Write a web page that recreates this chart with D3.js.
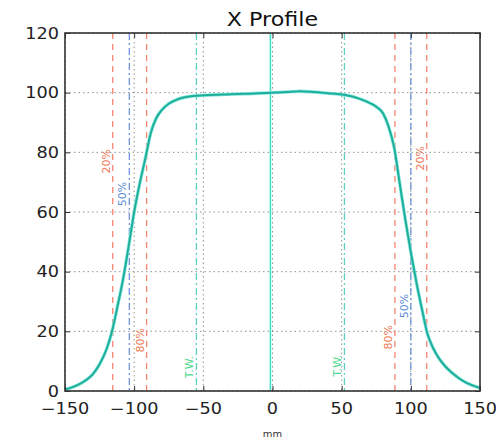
<!DOCTYPE html>
<html>
<head>
<meta charset="utf-8">
<script src="https://cdn.jsdelivr.net/npm/d3@7"></script>
<style>
  body { margin: 0; background: #fff; }
  text { font-family: "DejaVu Sans", sans-serif; }
</style>
</head>
<body>
<div class="chart"></div>
<script>
// profile samples (mm, %)
let profileX = [-150, -145, -140, -135, -130, -125, -120, -116, -112, -108, -104, -100, -96, -92, -88, -84, -80, -75, -70, -65, -60, -55, -50, -40, -30, -20, -10, 0, 10, 20, 30, 40, 50, 55, 60, 65, 70, 75, 80, 84, 88, 92, 96, 100, 104, 108, 112, 116, 120, 125, 130, 135, 140, 145, 150];
let profileY = [0.5, 1.2, 2.2, 3.6, 5.6, 9, 14, 20, 28.5, 37.5, 48.5, 60, 69.5, 77.8, 86.5, 91.5, 94.2, 96.3, 97.5, 98.3, 98.7, 99, 99.1, 99.3, 99.5, 99.6, 99.8, 100, 100.2, 100.5, 100.2, 99.8, 99.4, 99, 98.4, 97.6, 96.6, 95.3, 93, 88.5, 81.5, 69.5, 57.5, 46.5, 36.5, 27.5, 19.2, 14.5, 11.2, 8.2, 6, 4.2, 2.8, 1.8, 1.0];

// marker lines: position, label, label height
let markerX = [-115.5, -103.5, -91, -55, 52, 88.5, 100, 111.5];
let markerLabel = ['20%', '50%', '80%', 'T.W.', 'T.W.', '80%', '50%', '20%'];
let markerLabelY = [77, 66, 17, 8, 8.5, 18, 28.5, 78];
let markerKind = ['20', '50', '80', 'tw', 'tw', '80', '50', '20'];
let centerX = -1.5;

let xTicks = [-150, -100, -50, 0, 50, 100, 150];
let yTicks = [0, 20, 40, 60, 80, 100, 120];

let margin = { top: 33, right: 16, bottom: 52, left: 65 };
let width = 496 - margin.left - margin.right;
let height = 443 - margin.top - margin.bottom;

let lineColor = { '20': '#f48670', '80': '#f48670', '50': '#6f95dc', 'tw': '#5fd0bf' };
let lineDash = { '20': '6,5', '80': '6,5', '50': '7,3,2,3', 'tw': '7,3,2,3' };
let textColor = { '20': '#f07a55', '80': '#f07a55', '50': '#5b8bd8', 'tw': '#4fd890' };

let svg = d3.select('.chart')
    .append('svg')
    .attr('width', 496)
    .attr('height', 443);

let g = svg.append('g')
    .attr('transform', 'translate(' + margin.left + ', ' + margin.top + ')');

let xScale = d3.scaleLinear().domain([-150, 150]).range([0, width]);
let yScale = d3.scaleLinear().domain([0, 120]).range([height, 0]);

// grid
g.selectAll('.gx')
    .data(xTicks)
    .enter()
    .append('line')
    .attr('x1', d => xScale(d)).attr('x2', d => xScale(d))
    .attr('y1', 0).attr('y2', height)
    .style('stroke', '#666').style('stroke-width', 0.7)
    .style('stroke-dasharray', '1.5,3');
g.selectAll('.gy')
    .data(yTicks)
    .enter()
    .append('line')
    .attr('y1', d => yScale(d)).attr('y2', d => yScale(d))
    .attr('x1', 0).attr('x2', width)
    .style('stroke', '#666').style('stroke-width', 0.7)
    .style('stroke-dasharray', '1.5,3');

// marker lines
g.selectAll('.marker')
    .data(markerX)
    .enter()
    .append('line')
    .attr('x1', d => xScale(d)).attr('x2', d => xScale(d))
    .attr('y1', 0).attr('y2', height)
    .style('stroke', (d, i) => lineColor[markerKind[i]])
    .style('stroke-width', 1.3)
    .style('stroke-dasharray', (d, i) => lineDash[markerKind[i]]);

g.append('line')
    .attr('x1', xScale(centerX)).attr('x2', xScale(centerX))
    .attr('y1', 0).attr('y2', height)
    .style('stroke', '#3ee0cc').style('stroke-width', 1.6);

// marker labels
g.selectAll('.mlabel')
    .data(markerX)
    .enter()
    .append('text')
    .attr('transform', (d, i) => 'translate(' + (xScale(d) - 3) + ',' + yScale(markerLabelY[i]) + ') rotate(-90)')
    .style('text-anchor', 'middle')
    .style('font-size', '11px')
    .style('fill', (d, i) => textColor[markerKind[i]])
    .text((d, i) => markerLabel[i]);

// profile curve
let line = d3.line()
    .x((d, i) => xScale(profileX[i]))
    .y(d => yScale(d))
    .curve(d3.curveMonotoneX);
g.append('path')
    .datum(profileY)
    .attr('d', line)
    .style('fill', 'none')
    .style('stroke', '#8ceade')
    .style('stroke-width', 3.4);
g.append('path')
    .datum(profileY)
    .attr('d', line)
    .style('fill', 'none')
    .style('stroke', '#1fae9c')
    .style('stroke-width', 2);

// axes (ticks inside)
let xAxis = d3.axisBottom(xScale).tickValues(xTicks).tickSize(-5).tickFormat('');
let xAxisTop = d3.axisTop(xScale).tickValues(xTicks).tickSize(-5).tickFormat('');
let yAxis = d3.axisLeft(yScale).tickValues(yTicks).tickSize(-5).tickFormat('');
let yAxisRight = d3.axisRight(yScale).tickValues(yTicks).tickSize(-5).tickFormat('');
g.append('g').attr('transform', `translate(0, ${height})`).call(xAxis);
g.append('g').call(xAxisTop);
g.append('g').call(yAxis);
g.append('g').attr('transform', `translate(${width}, 0)`).call(yAxisRight);
g.selectAll('.domain').remove();
g.selectAll('.tick line').style('stroke', '#333').style('stroke-width', 1);

g.append('rect')
    .attr('width', width).attr('height', height)
    .style('fill', 'none').style('stroke', '#333').style('stroke-width', 1.6);

// tick labels
g.selectAll('.xl')
    .data(xTicks)
    .enter()
    .append('text')
    .attr('transform', d => 'translate(' + xScale(d) + ',' + (height + 23) + ') scale(1.18,1)')
    .style('text-anchor', 'middle')
    .style('font-size', '15px')
    .style('fill', '#222')
    .text(d => d < 0 ? '\u2212' + Math.abs(d) : d);
g.selectAll('.yl')
    .data(yTicks)
    .enter()
    .append('text')
    .attr('transform', d => 'translate(-6,' + (yScale(d) + 5.5) + ') scale(1.18,1)')
    .style('text-anchor', 'end')
    .style('font-size', '15px')
    .style('fill', '#222')
    .text(d => d);

// title and x label
svg.append('text')
    .attr('transform', 'translate(' + (margin.left + width / 2) + ',26) scale(1.17,1)')
    .style('text-anchor', 'middle')
    .style('font-size', '19px')
    .style('fill', '#111')
    .text('X Profile');
svg.append('text')
    .attr('transform', 'translate(' + (margin.left + width / 2) + ',437) scale(1.1,1)')
    .style('text-anchor', 'middle')
    .style('font-size', '9px')
    .style('fill', '#333')
    .text('mm');
</script>
</body>
</html>
